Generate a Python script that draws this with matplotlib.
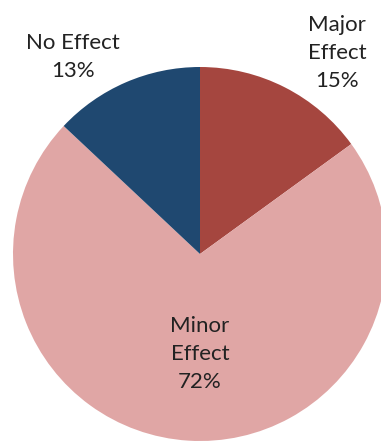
import matplotlib.pyplot as plt

plt.rcParams['font.family'] = ['Lato', 'DejaVu Sans']

# impact categories, clockwise from 12 o'clock
categories = ['Major\nEffect', 'Minor\nEffect', 'No Effect']
shares = [15, 72, 13]
colors = ['#A5463F', '#E0A6A5', '#1F4870']

# where each label sits (pixel units, y up)
label_pos = [(337, 390), (200, 89), (73, 386)]

fig = plt.figure(figsize=(3.81, 4.43), dpi=100)
ax = fig.add_axes([0, 0, 1, 1])

ax.pie(shares, colors=colors, startangle=90, counterclock=False,
       center=(200, 189), radius=187,
       wedgeprops={'linewidth': 0})

for name, val, (x, y) in zip(categories, shares, label_pos):
    ax.text(x, y, '%s\n%d%%' % (name, val), ha='center', va='center',
            fontsize=16, linespacing=1.5, color='#222222')

ax.set_xlim(0, 381)
ax.set_ylim(0, 443)
ax.set_aspect('equal')
ax.axis('off')

plt.savefig('out.png', dpi=100)
